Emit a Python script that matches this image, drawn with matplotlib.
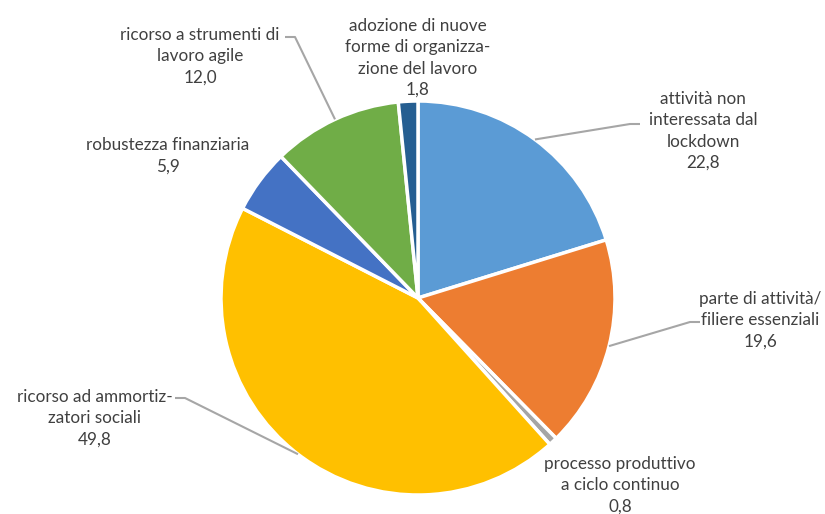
import numpy as np
import matplotlib
matplotlib.use("Agg")
import matplotlib.pyplot as plt

# data (clockwise from 12 o'clock)
labels = [
    "attività non\ninteressata dal\nlockdown",
    "parte di attività/\nfiliere essenziali",
    "processo produttivo\na ciclo continuo",
    "ricorso ad ammortiz-\nzatori sociali",
    "robustezza finanziaria",
    "ricorso a strumenti di\nlavoro agile",
    "adozione di nuove\nforme di organizza-\nzione del lavoro",
]
values = [22.8, 19.6, 0.8, 49.8, 5.9, 12.0, 1.8]
colors = ["#5B9BD5", "#ED7D31", "#A5A5A5", "#FFC000", "#4472C4", "#70AD47", "#255E91"]

W, H = 825, 514
plt.rcParams['font.family'] = ['Lato', 'DejaVu Sans']

fig = plt.figure(figsize=(W / 100, H / 100), dpi=100)
ax = fig.add_axes([0, 0, 1, 1])

cx, cy, r = 418, H - 298, 197
ax.pie(values, colors=colors, startangle=90, counterclock=False,
       center=(cx, cy), radius=r,
       wedgeprops=dict(edgecolor="white", linewidth=2.5))
ax.set_xlim(0, W)
ax.set_ylim(0, H)
ax.set_aspect("equal")
ax.axis("off")

# label centres (image px) and optional elbow of leader line
label_pos = [(703, 131), (760, 320), (620, 485), (95, 418), (168, 156), (200, 56), (418, 58)]
elbows = [(630, 124), (690, 322), None, (185, 398), None, (295, 37), None]
anchors = [(640, 124), (700, 322), None, (175, 398), None, (285, 37), None]

total = sum(values)
cum = np.cumsum([0] + values[:-1])
txtcol = "#404040"
for i, (lab, v) in enumerate(zip(labels, values)):
    x, y = label_pos[i]
    ax.text(x, H - y, lab + "\n" + f"{v:.1f}".replace(".", ","),
            ha="center", va="center", fontsize=12.3, color=txtcol,
            linespacing=1.4)
    if elbows[i] is not None:
        mid = np.deg2rad(90 - (cum[i] + v / 2) / total * 360)
        px, py = cx + r * np.cos(mid), cy + r * np.sin(mid)
        ex, ey = elbows[i]
        ax_, ay_ = anchors[i]
        ax.plot([ax_, ex, px], [H - ay_, H - ey, py], color="#A6A6A6", lw=1.5,
                solid_capstyle="butt")

fig.savefig("out.png", dpi=100)
